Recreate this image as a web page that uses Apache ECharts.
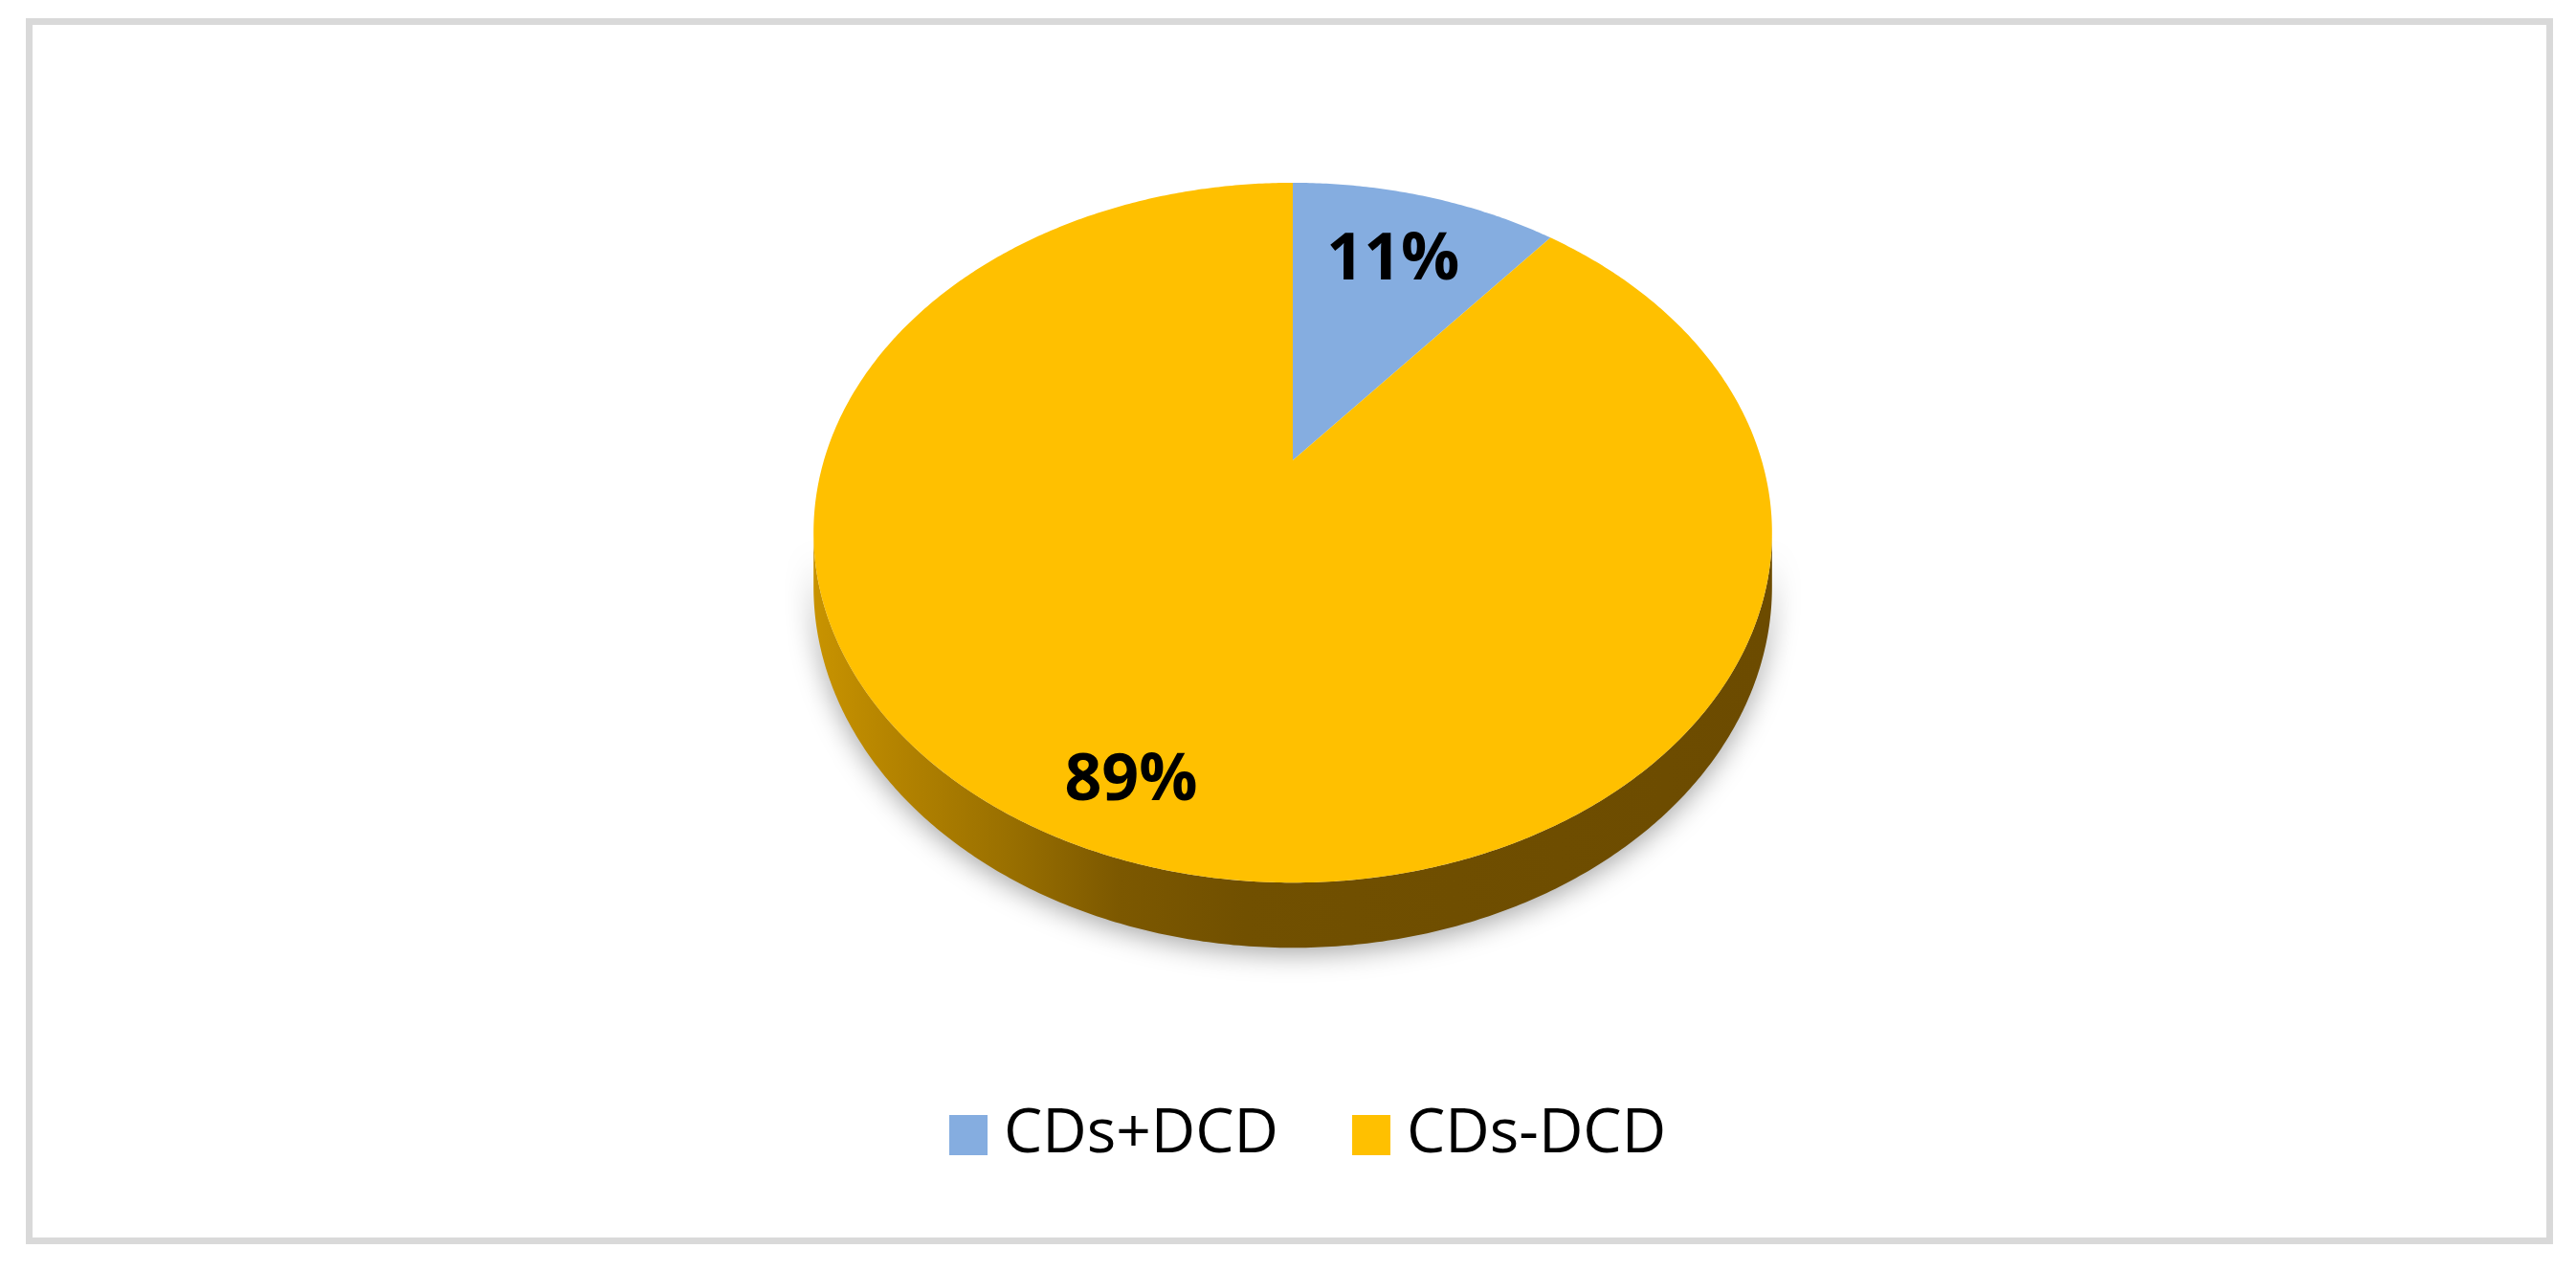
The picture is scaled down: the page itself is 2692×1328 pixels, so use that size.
<!DOCTYPE html>
<html><head><meta charset="utf-8">
<script src="https://cdn.jsdelivr.net/npm/echarts@6/dist/echarts.min.js"></script>
<style>
html,body{margin:0;padding:0;background:#fff;}
#c{position:absolute;left:0;top:0;width:2692px;height:1328px;}
#frame{position:absolute;left:27px;top:19px;width:2641px;height:1281px;box-sizing:border-box;border:7px solid #d9d9d9;pointer-events:none;}
</style>
</head><body><div id="c"></div><div id="frame"></div>
<script>
// ---- data ----
const categories = ['CDs+DCD', 'CDs-DCD'];
const values = [11, 89];
const colors = ['#85ADE0', '#FFC000'];

// ---- layout (not data) ----
const labelRadius = [0.72, 0.85];
const G = {cx: 1351, cy: 481, A: 490, B: 350, k: 0.2067, D: 54};
const total = values.reduce((a, b) => a + b, 0);
const silL = Math.acos(-G.k) * 180 / Math.PI;   // left/right silhouette angles (clockwise from top)
const silR = 360 - silL;

function proj(thDeg, r, drop) {
  const t = thDeg * Math.PI / 180;
  const u = r * Math.sin(t), v = -r * Math.cos(t);
  const w = 1 - G.k * v;
  return [G.cx + G.A * u / w, G.cy + (G.B * v + drop) / w];
}
function arc(a0, a1, r, drop) {
  const pts = [];
  const n = Math.max(2, Math.ceil((a1 - a0) / 0.5));
  for (let s = 0; s <= n; s++) pts.push(proj(a0 + (a1 - a0) * s / n, r, drop));
  return pts;
}
const wallFill = {
  type: 'linear', x: G.cx - 500, y: 0, x2: G.cx + 500, y2: 0, global: true,
  colorStops: [
    {offset: 0, color: '#C89300'},
    {offset: 0.08, color: '#B58400'},
    {offset: 0.2, color: '#9A7000'},
    {offset: 0.32, color: '#7C5800'},
    {offset: 0.45, color: '#715000'},
    {offset: 1, color: '#6C4B00'}
  ]
};

function makeRender(i) {
  return function (params, api) {
    let start = 0;
    for (let j = 0; j < i; j++) start += values[j] / total * 360;
    const end = start + api.value(0) / total * 360;
    const children = [];
    const ws = Math.max(start, silL), we = Math.min(end, silR);
    if (we > ws) {
      const topPts = arc(ws, we, 1, 0);
      const botPts = arc(ws, we, 1, G.D).reverse();
      children.push({
        type: 'polygon',
        shape: {points: topPts.concat(botPts)},
        style: {fill: wallFill, shadowBlur: 28, shadowColor: 'rgba(0,0,0,0.35)', shadowOffsetY: 6}
      });
    }
    const face = [proj(0, 0, 0)].concat(arc(start, end, 1, 0));
    children.push({type: 'polygon', shape: {points: face}, style: {fill: colors[i]}});
    const mid = (start + end) / 2;
    const lp = proj(mid, labelRadius[i], 0);
    children.push({
      type: 'text', x: lp[0], y: lp[1],
      style: {
        text: Math.round(api.value(0) / total * 100) + '%',
        font: 'bold 68px "Open Sans", "Noto Sans", sans-serif',
        fill: '#000', align: 'center', verticalAlign: 'middle'
      }
    });
    return {type: 'group', children: children};
  };
}

const chart = echarts.init(document.getElementById('c'));
chart.setOption({
  animation: false,
  color: colors,
  legend: {
    data: categories, left: 992, top: 1154, padding: 0,
    itemWidth: 40, itemHeight: 42, itemGap: 77, icon: 'rect',
    textStyle: {fontFamily: '"Open Sans", "Noto Sans", sans-serif', fontSize: 64, color: '#000', padding: [0, 0, 0, 12]}
  },
  series: categories.map((name, i) => ({
    type: 'custom', name: name, coordinateSystem: 'none',
    itemStyle: {color: colors[i]},
    data: [values[i]],
    renderItem: makeRender(i)
  }))
});
</script>
</body></html>
